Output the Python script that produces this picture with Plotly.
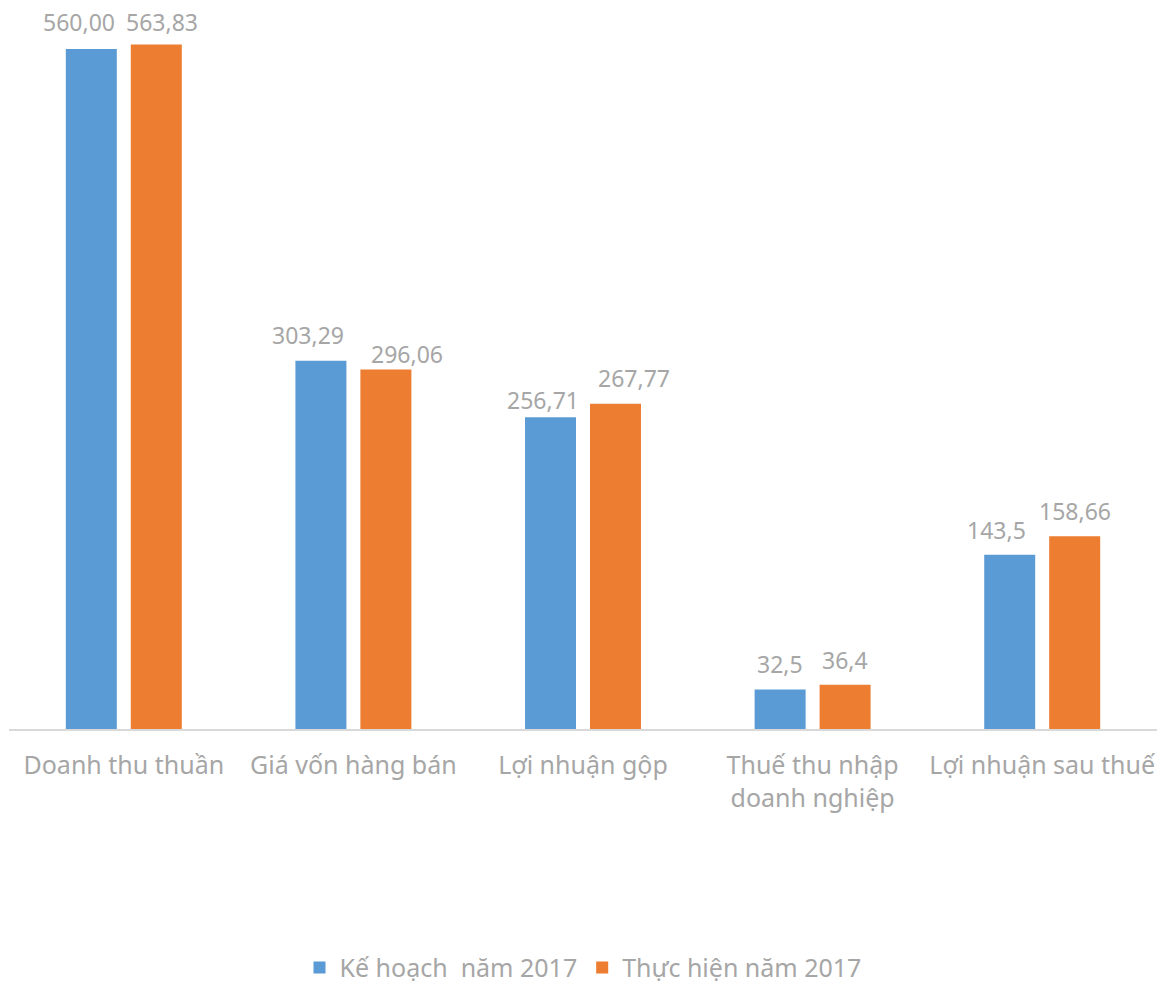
import plotly.graph_objects as go

categories = ["Doanh thu thuần", "Giá vốn hàng bán", "Lợi nhuận gộp",
              "Thuế thu nhập<br>doanh nghiệp", "Lợi nhuận sau thuế"]
ke_hoach = [560.00, 303.29, 256.71, 32.5, 143.5]
ke_hoach_labels = ["560,00", "303,29", "256,71", "32,5", "143,5"]
thuc_hien = [563.83, 296.06, 267.77, 36.4, 158.66]
thuc_hien_labels = ["563,83", "296,06", "267,77", "36,4", "158,66"]
series_names = ["Kế hoạch\u00a0 năm 2017", "Thực hiện năm 2017"]

# label placement styling (pixel nudges, as in the original chart)
kh_label_dx = [-12.5, -12.5, -7.5, 0, -13.5]
kh_label_dy = [26, 24.5, 16, 25, 24]
th_label_dx = [6, 21, 18, 0, 0]
th_label_dy = [21, 15, 25, 24, 24.5]

FONT = "Noto Sans"
GRAY = "#a6a6a6"

fig = go.Figure()
fig.add_trace(go.Bar(x=categories, y=ke_hoach, name=series_names[0],
                     marker=dict(color="#5b9bd5", line=dict(width=0))))
fig.add_trace(go.Bar(x=categories, y=thuc_hien, name=series_names[1],
                     marker=dict(color="#ed7d31", line=dict(width=0))))

annotations = []
for cat, v, lab, dx, dy in zip(categories, ke_hoach, ke_hoach_labels, kh_label_dx, kh_label_dy):
    annotations.append(dict(x=cat, y=v, text=lab, showarrow=False, xshift=-32.5 + dx,
                            yanchor="middle", yshift=dy + 1, borderpad=0,
                            font=dict(family=FONT, size=23, color=GRAY)))
for cat, v, lab, dx, dy in zip(categories, thuc_hien, thuc_hien_labels, th_label_dx, th_label_dy):
    annotations.append(dict(x=cat, y=v, text=lab, showarrow=False, xshift=32.5 + dx,
                            yanchor="middle", yshift=dy + 1, borderpad=0,
                            font=dict(family=FONT, size=23, color=GRAY)))

fig.update_layout(
    width=1159, height=975,
    margin=dict(l=1, r=10, t=0, b=254, autoexpand=False),
    paper_bgcolor="white", plot_bgcolor="white",
    barmode="group", bargap=0.434, bargroupgap=0.215,
    font=dict(family=FONT, color=GRAY),
    showlegend=True,
    legend=dict(orientation="h", x=0.5, xanchor="center", y=-0.331, yanchor="middle",
                font=dict(family=FONT, size=25, color=GRAY),
                itemwidth=30, traceorder="normal"),
    annotations=annotations,
)
fig.update_xaxes(showline=True, linecolor="#d9d9d9", linewidth=2,
                 ticks="", tickfont=dict(family=FONT, size=25, color=GRAY),
                 ticklabelstandoff=13, showgrid=False, automargin=False)
fig.update_yaxes(range=[0, 593.8], visible=False, showgrid=False, zeroline=False,
                 automargin=False)

fig.write_html("out.html")
